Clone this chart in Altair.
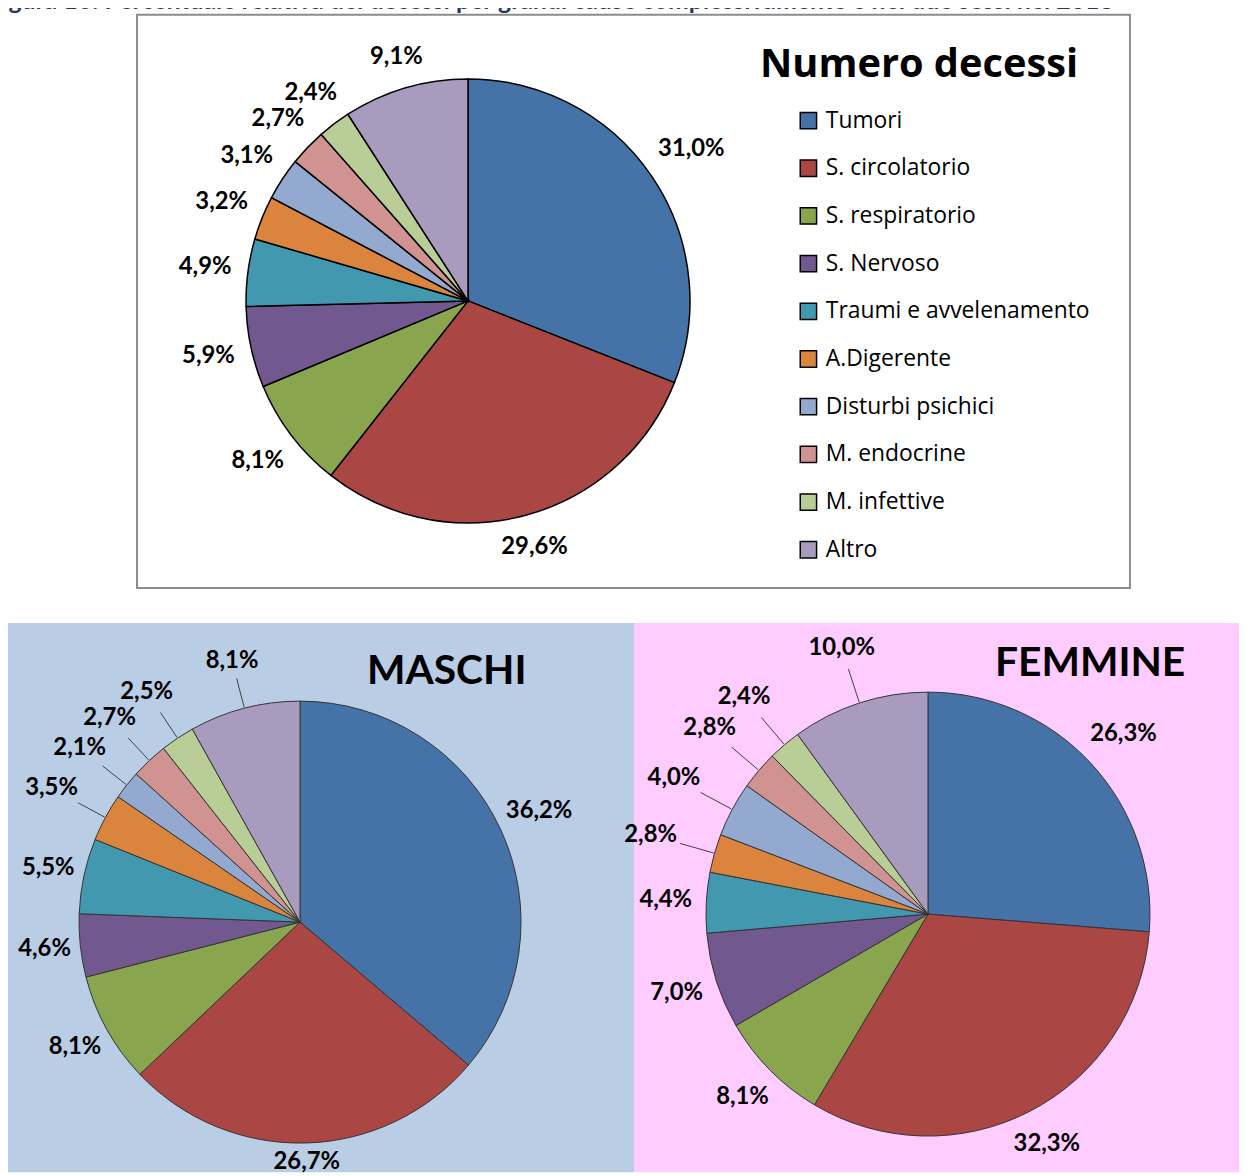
import altair as alt
import pandas as pd

# ---- data ----
cause = ["Tumori", "S. circolatorio", "S. respiratorio", "S. Nervoso",
         "Traumi e avvelenamento", "A.Digerente", "Disturbi psichici",
         "M. endocrine", "M. infettive", "Altro"]
totale = [31.0, 29.6, 8.1, 5.9, 4.9, 3.2, 3.1, 2.7, 2.4, 9.1]
maschi = [36.2, 26.7, 8.1, 4.6, 5.5, 3.5, 2.1, 2.7, 2.5, 8.1]
femmine = [26.3, 32.3, 8.1, 7.0, 4.4, 2.8, 4.0, 2.8, 2.4, 10.0]
colori = ["#4572A7", "#AA4643", "#89A54E", "#71588F", "#4198AF",
          "#DB843D", "#93A9CF", "#D19392", "#B9CD96", "#A99BBD"]

titolo_fig = ("Figura 16: Percentuale relativa dei decessi per grandi cause "
              "complessivamente e nei due sessi nel 2018")

W, H = 1239, 1168
KX, KY = 1255 / 1247, 1184 / 1176   # page (with margins) -> picture


def sx(X):
    return X * KX - 8


def sy(Y):
    return Y * KY - 8


def make_df(vals):
    return pd.DataFrame({
        "causa": cause,
        "valore": vals,
        "ordine": list(range(len(cause))),
        "etichetta": [f"{v:.1f}%".replace(".", ",") for v in vals],
    })


color_enc = alt.Color(
    "causa:N",
    scale=alt.Scale(domain=cause, range=colori),
    legend=alt.Legend(
        orient="none", legendX=sx(797), legendY=98, title=None,
        symbolType="square", symbolSize=270, symbolStrokeColor="black",
        symbolStrokeWidth=1.5, labelFont="Open Sans", labelFontSize=23,
        labelColor="black", labelOffset=6, rowPadding=24, padding=0,
        labelLimit=400,
    ),
)

HH = 9      # half height of a percentage label
CW = 6.6    # half width of one character of a percentage label


def pie(vals, X, Y, R, stroke, sw, gap, leaders):
    df = make_df(vals)
    cx, cy, r = sx(X), sy(Y), R * KX
    arc = alt.Chart(df).mark_arc(radius=r, stroke=stroke, strokeWidth=sw).encode(
        theta=alt.Theta("valore:Q", stack=True),
        order=alt.Order("ordine:Q"),
        color=color_enc,
        x=alt.value(cx),
        y=alt.value(cy),
    )
    push = "(datum.ordine >= 5 ? 25 : 0)" if leaders else "0"
    base = alt.Chart(df).transform_window(
        cum="sum(valore)", sort=[alt.SortField("ordine")], frame=[None, 0]
    ).transform_joinaggregate(
        tot="sum(valore)"
    ).transform_calculate(
        ang="2*PI*(datum.cum - datum.valore/2)/datum.tot",
        ext=f"{HH}*abs(cos(datum.ang)) + {CW}*length(datum.etichetta)*abs(sin(datum.ang))",
        lr=f"{r + gap} + datum.ext + {push}",
    )
    lab = base.mark_text(
        font="Lato", fontWeight="bold", fontSize=24, color="black",
        align="center", baseline="middle",
    ).encode(
        theta=alt.Theta("ang:Q", scale=None),
        radius=alt.Radius("lr:Q", scale=None),
        text="etichetta:N",
        x=alt.value(cx),
        y=alt.value(cy),
    )
    out = [arc, lab]
    if leaders:
        lead = base.transform_filter("datum.ordine >= 5").transform_calculate(
            r1=f"{r + 1}",
            r2="datum.lr - datum.ext - 3",
        ).transform_calculate(
            lx1=f"{cx} + datum.r1*sin(datum.ang)",
            ly1=f"{cy} - datum.r1*cos(datum.ang)",
            lx2=f"{cx} + datum.r2*sin(datum.ang)",
            ly2=f"{cy} - datum.r2*cos(datum.ang)",
        ).mark_rule(color="#404040", strokeWidth=1).encode(
            x=alt.X("lx1:Q", scale=None),
            y=alt.Y("ly1:Q", scale=None),
            x2="lx2:Q",
            y2="ly2:Q",
        )
        out.append(lead)
    return out


def rect(X1, X2, Y1, Y2, fill, stroke=None, sw=0):
    kw = dict(fill=fill)
    if stroke:
        kw.update(stroke=stroke, strokeWidth=sw)
    return alt.Chart(pd.DataFrame({"a": [0]})).mark_rect(**kw).encode(
        x=alt.value(sx(X1)), x2=alt.value(min(sx(X2), W)),
        y=alt.value(sy(Y1)), y2=alt.value(min(sy(Y2), H)),
    )


def label(txt, X, Y, size, font="Lato", weight="bold", color="black"):
    return alt.Chart(pd.DataFrame({"t": [txt]})).mark_text(
        font=font, fontWeight=weight, fontSize=size, color=color,
        align="left", baseline="alphabetic",
    ).encode(text="t:N", x=alt.value(sx(X)), y=alt.value(sy(Y)))


layers = [
    rect(137, 1130, 11, 584, "white", "#8C8C8C", 2),
    rect(8, 634, 619, 1176, "#B9CDE5"),
    rect(634, 1247, 619, 1176, "#FFCCFF"),
    label(titolo_fig, -12, 5, 25, color="#1F3864"),
    label("Numero decessi", 760, 73, 40, font="Open Sans"),
    label("MASCHI", 367, 680, 41),
    label("FEMMINE", 995, 672, 41),
]
layers += pie(totale, 468, 297, 222, "black", 1.5, 16, False)
layers += pie(maschi, 300, 918, 221, "#333333", 1, 9, True)
layers += pie(femmine, 928, 910, 222, "#333333", 1, 14, True)

chart = alt.layer(*layers).resolve_scale(theta="independent").properties(
    width=W, height=H, autosize=alt.AutoSizeParams(type="none"), padding=0
).configure_view(stroke=None)

chart.save("out.html", embed_options={"renderer": "svg", "actions": False})
